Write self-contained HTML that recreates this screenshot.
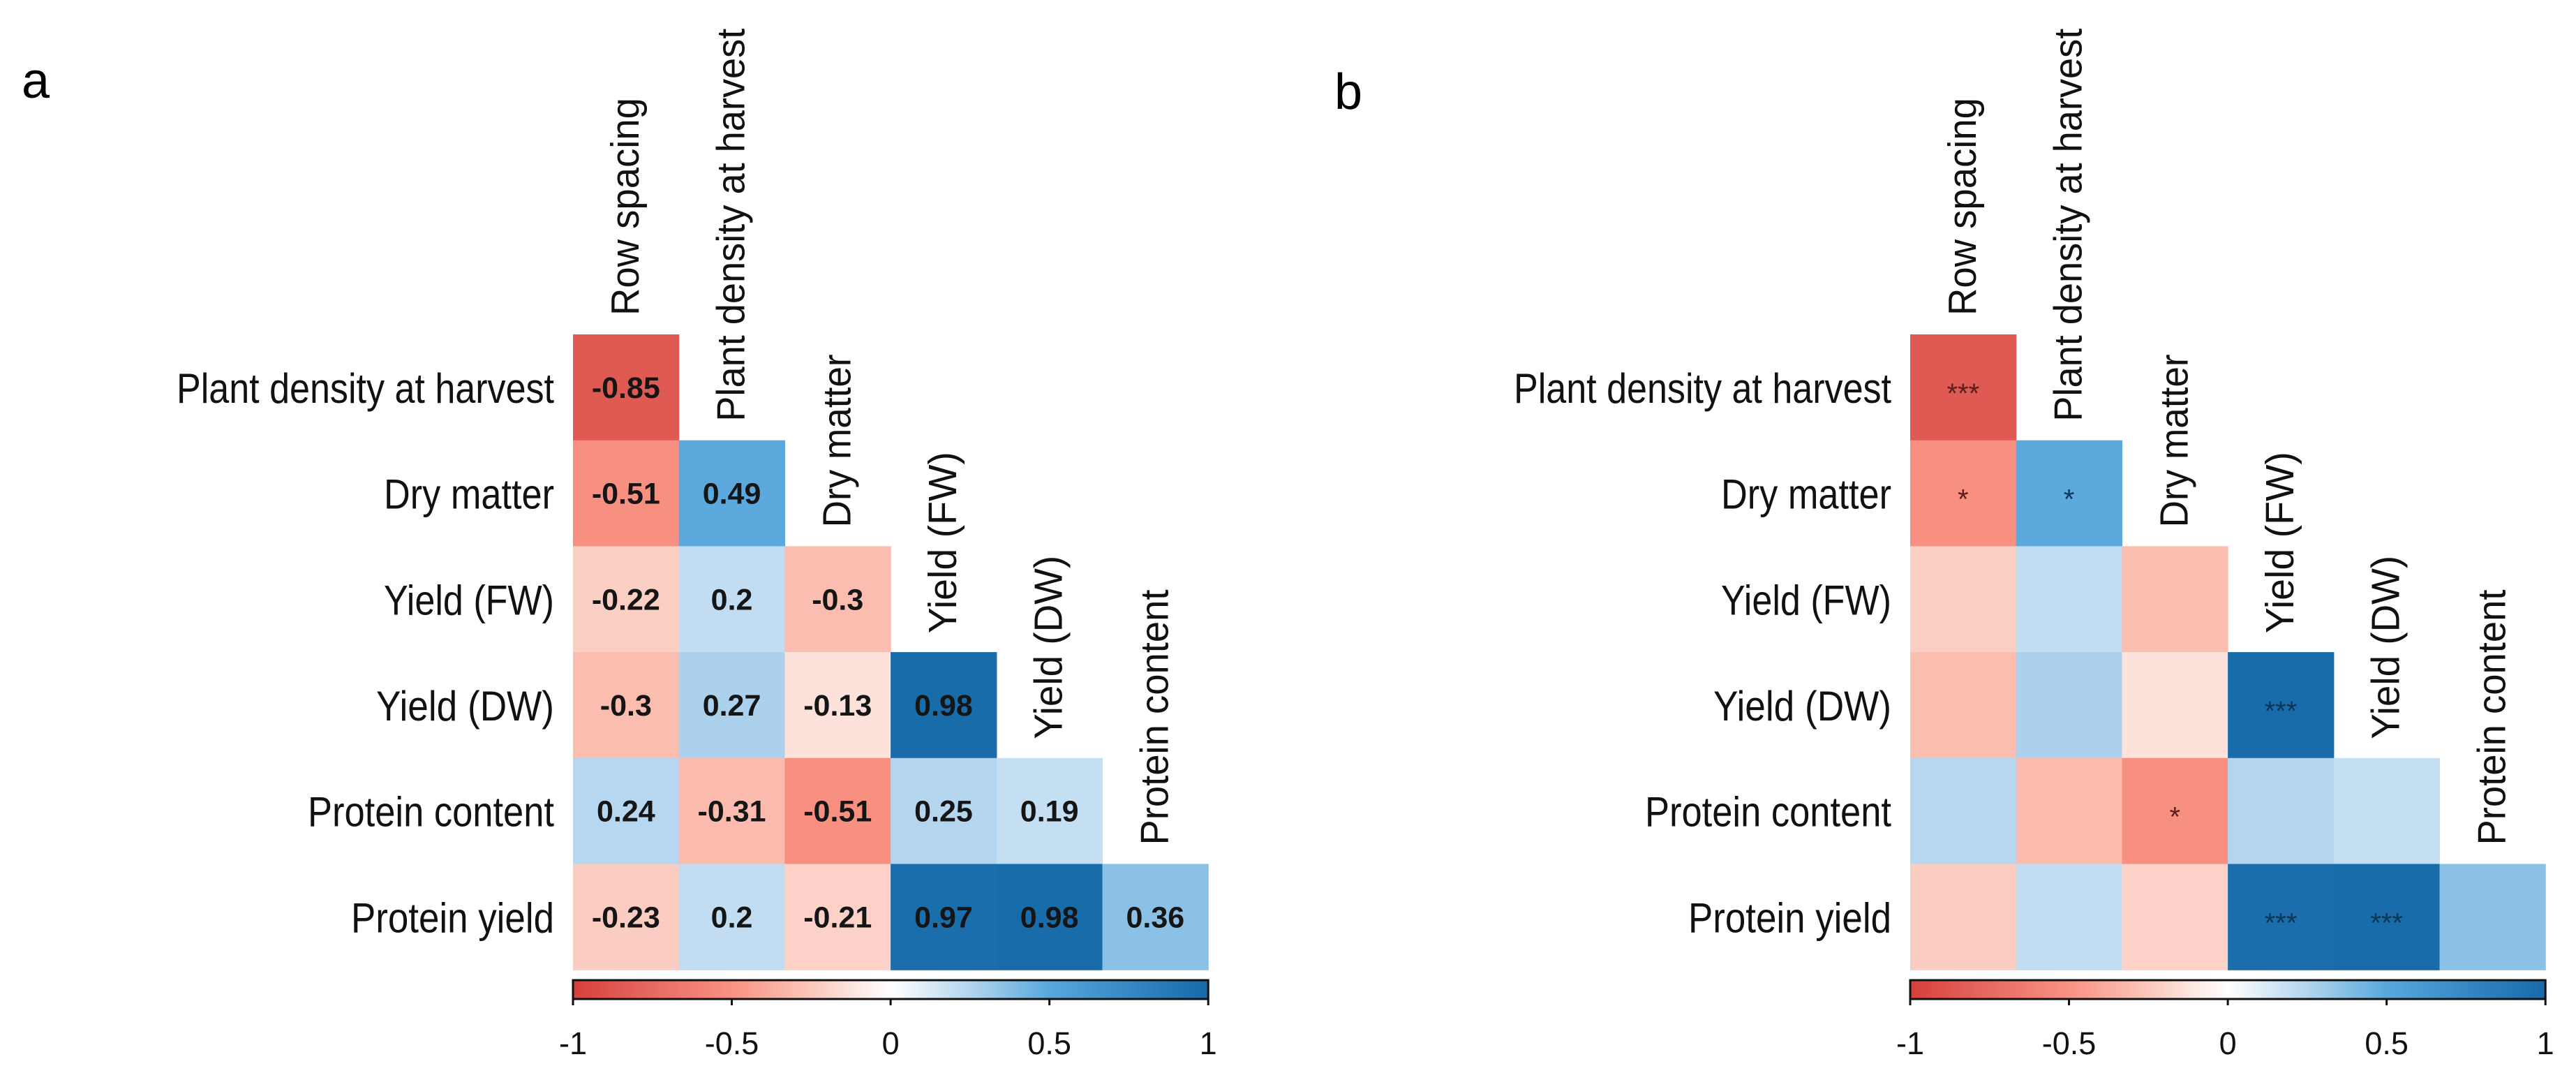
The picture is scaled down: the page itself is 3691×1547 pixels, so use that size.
<!DOCTYPE html>
<html><head><meta charset="utf-8"><style>
html,body{margin:0;padding:0;background:#fff;width:3691px;height:1547px;overflow:hidden}
svg{display:block}
.rl{font-family:"Liberation Sans Narrow","Liberation Sans",sans-serif;font-size:60px;fill:#111}
.cl{font-family:"Liberation Sans",sans-serif;font-size:57px;fill:#111}
.val{font-family:"Liberation Sans Narrow","Liberation Sans",sans-serif;font-weight:bold;font-size:43px;fill:#151515}
.tk{font-family:"Liberation Sans",sans-serif;font-size:45px;fill:#111}
.star{font-family:"Liberation Sans",sans-serif;font-size:40px}
</style></head><body>
<svg id="fig" width="3691" height="1547" viewBox="0 0 3691 1547" xmlns="http://www.w3.org/2000/svg">
<text x="31" y="140" style="font-family:'Liberation Sans',sans-serif;font-size:72px">a</text>
<text x="1912" y="156" style="font-family:'Liberation Sans',sans-serif;font-size:72px">b</text>
</svg>
<script>
const rowLabels = ["Plant density at harvest","Dry matter","Yield (FW)","Yield (DW)","Protein content","Protein yield"];
const colLabels = ["Row spacing","Plant density at harvest","Dry matter","Yield (FW)","Yield (DW)","Protein content"];
const corrRow0 = [-0.85];
const corrRow1 = [-0.51, 0.49];
const corrRow2 = [-0.22, 0.2, -0.3];
const corrRow3 = [-0.3, 0.27, -0.13, 0.98];
const corrRow4 = [0.24, -0.31, -0.51, 0.25, 0.19];
const corrRow5 = [-0.23, 0.2, -0.21, 0.97, 0.98, 0.36];
const sigRow0 = ["***"];
const sigRow1 = ["*","*"];
const sigRow2 = ["","",""];
const sigRow3 = ["","","","***"];
const sigRow4 = ["","","*","",""];
const sigRow5 = ["","","","***","***",""];
const colorbarTicks = [-1,-0.5,0,0.5,1];
const colorbarTickLabels = ["-1","-0.5","0","0.5","1"];

const corr = [corrRow0,corrRow1,corrRow2,corrRow3,corrRow4,corrRow5];
const sig = [sigRow0,sigRow1,sigRow2,sigRow3,sigRow4,sigRow5];
const NS = "http://www.w3.org/2000/svg";
const svg = document.getElementById('fig');
const stops = [[-1,[214,62,60]],[-0.85,[224,90,84]],[-0.5,[249,146,130]],[-0.25,[251,200,188]],[0,[255,255,255]],[0.25,[179,213,238]],[0.5,[88,168,220]],[0.75,[54,136,196]],[1,[22,106,168]]];
function color(v){
  for(let i=0;i<stops.length-1;i++){
    const a=stops[i],b=stops[i+1];
    if(v>=a[0]&&v<=b[0]){const t=(v-a[0])/(b[0]-a[0]);
      return 'rgb('+a[1].map((c,k)=>Math.round(c+(b[1][k]-c)*t)).join(',')+')';}
  }
  return v<0?'rgb(214,62,60)':'rgb(22,106,168)';
}
const TOP=479, CELL=151.7, N=6;
const rowW=[541,244,244,255,353,291];
const colL=[312,563,248,260,263,366];
function mk(tag,attrs,parent){const e=document.createElementNS(NS,tag);for(const k in attrs)e.setAttribute(k,attrs[k]);(parent||svg).appendChild(e);return e;}

function panel(left, showVals, id){
  const g=mk('g',{});
  
  
  const xOf=c=>left+c*CELL, yOf=r=>TOP+r*CELL;
  for(let r=0;r<N;r++){
    const t=mk('text',{x:left-27,y:yOf(r)+CELL/2+22,'text-anchor':'end',class:'rl',textLength:rowW[r],lengthAdjust:'spacingAndGlyphs'},g);
    t.textContent=rowLabels[r];
    
    
  }
  for(let c=0;c<N;c++){
    const bx=xOf(c)+CELL/2+18, by=yOf(c)-27;
    const t=mk('text',{x:0,y:0,class:'cl',transform:'translate('+bx+','+by+') rotate(-90)',textLength:colL[c],lengthAdjust:'spacingAndGlyphs'},g);
    t.textContent=colLabels[c];
    
    
  }
  for(let r=0;r<N;r++){
    for(let c=0;c<corr[r].length;c++){
      const v=corr[r][c];
      const rc=mk('rect',{x:xOf(c),y:yOf(r),width:CELL+0.6,height:CELL+0.6,fill:color(v)},g);
      
      
      if(showVals){
        const t=mk('text',{x:xOf(c)+CELL/2,y:yOf(r)+CELL/2+15,'text-anchor':'middle',class:'val'},g);
        t.textContent=String(v);
        
        
      } else if(sig[r][c]){
        const t=mk('text',{x:xOf(c)+CELL/2,y:yOf(r)+CELL/2+22,'text-anchor':'middle',class:'star',fill:v<0?'#5a1f1c':'#0c3556'},g);
        t.textContent=sig[r][c];
        
        
      }
    }
  }
  const W=CELL*N, cy=1404, ch=27;
  const defs=mk('defs',{},g);
  const lg=mk('linearGradient',{id:'grad'+id,x1:0,x2:1,y1:0,y2:0},defs);
  stops.forEach(s=>mk('stop',{offset:((s[0]+1)/2*100)+'%','stop-color':'rgb('+s[1].join(',')+')'},lg));
  const bar=mk('rect',{x:left,y:cy,width:W,height:ch,fill:'url(#grad'+id+')',stroke:'#111','stroke-width':3},g);
  
  
  const sx=v=>left+(v+1)/2*W;
  colorbarTicks.forEach((v,i)=>{
    const l=mk('line',{x1:sx(v),x2:sx(v),y1:cy+ch,y2:cy+ch+9,stroke:'#111','stroke-width':3},g);
    
    
    const t=mk('text',{x:sx(v),y:1510,'text-anchor':'middle',class:'tk'},g);
    t.textContent=colorbarTickLabels[i];
    
    
  });
}
panel(821,true,'a');
panel(2737,false,'b');
</script>
</body></html>
